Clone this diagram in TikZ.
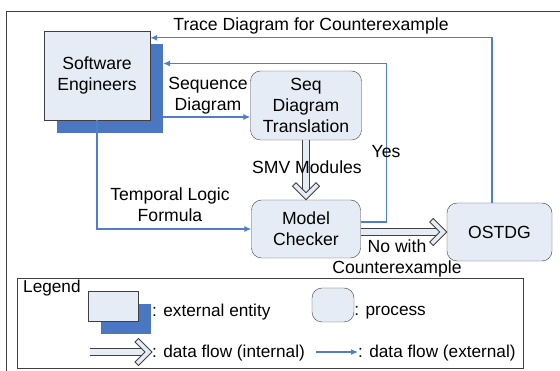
\documentclass[tikz,border=0pt]{standalone}
\usepackage{fontspec}
\setmainfont{Liberation Sans}
\usetikzlibrary{positioning,arrows.meta,shadows}
\definecolor{boxfill}{HTML}{E6ECF6}
\definecolor{shadowblue}{HTML}{4A76C2}
\definecolor{flowblue}{HTML}{4F7FC6}
\definecolor{edgegray}{HTML}{404040}

\begin{document}
\begin{tikzpicture}[x=1pt,y=-1pt,
  font=\fontsize{17.6}{21}\selectfont,
  entity/.style={draw=edgegray,fill=boxfill,align=center,inner sep=0pt,
    drop shadow={shadow xshift=13pt,shadow yshift=-13pt,fill=shadowblue,opacity=1}},
  process/.style={draw=edgegray,fill=boxfill,rounded corners=10pt,align=center,inner sep=0pt},
  flow/.style={draw=flowblue,line width=1.1pt,-{Latex[length=7pt,width=6pt]}},
  hollow/.style={draw=edgegray,double=boxfill,double distance=6pt,line width=0.8pt},
  chev/.pic={\draw[edgegray,fill=boxfill,line width=0.8pt,line join=miter]
    (0,0) -- (-13.5,-13.5) -- (-17,-10) -- (-7,0) -- (-17,10) -- (-13.5,13.5) -- cycle;},
  lbl/.style={align=center,inner sep=1pt},
  legtxt/.style={anchor=base west,inner sep=0pt,font=\fontsize{17.2}{20}\selectfont}]
\useasboundingbox (0,0) rectangle (560,371);
\draw[edgegray] (6,371) -- (6,11) -- (560,11);

% processes and entity
\node[entity,minimum width=106pt,minimum height=89pt] (se) at (97,75.5) {Software\\Engineers};
\node[process,minimum width=111pt,minimum height=69pt] (seq) at (306,105.5) {Seq\\Diagram\\Translation};
\node[process,minimum width=109pt,minimum height=58pt] (mc) at (306,229) {Model\\Checker};
\node[process,minimum width=105pt,minimum height=58pt] (ostdg) at (499.5,232) {OSTDG};

% external data flows
\draw[flow] ([xshift=-7.5pt]ostdg.north) |- ([yshift=-7pt]se.north east);
\draw[flow] ([yshift=7pt]mc.east) -- ++(26,0) |- ([xshift=13pt,yshift=12pt]se.east);
\draw[flow] ([xshift=13pt,yshift=-41.5pt]se.east) coordinate (sqs) -- (sqs -| seq.west);
\draw[flow] (se.south) |- (mc.west);

% internal data flows
\draw[hollow] (seq.south) -- ([yshift=7pt]mc.north);
\pic[rotate=-90] at (mc.north) {chev};
\draw[hollow] ([yshift=-3pt]mc.east) coordinate (nos) -- ([xshift=-7pt]nos -| ostdg.west);
\pic at (nos -| ostdg.west) {chev};

% labels
\node[lbl] (tracelbl) at (311,26) {Trace Diagram for Counterexample};
\node[lbl] (seqlbl) at (208,96) {Sequence\\Diagram};
\node[lbl] (tllbl) at (170,205) {Temporal Logic\\Formula};
\node[lbl] (smvlbl) at (307,167) {SMV Modules};
\node[lbl] (yeslbl) at (386,152) {Yes};
\node[lbl] (nolbl) at (397,258) {No with\\Counterexample};

% legend
\draw[edgegray] (17,278) rectangle (523,368);
\node[legtxt] (leg) at (23,293) {Legend};
\node[entity,minimum width=50pt,minimum height=30pt] (legent) at (113,306) {};
\node[legtxt] (legentlbl) at (152,317) {: external entity};
\node[process,minimum width=42pt,minimum height=34pt] (legproc) at (333,305) {};
\node[legtxt] (legproclbl) at (legproc.east |- 0,316) {: process};
\coordinate (hin1) at (90,352);
\coordinate (hin2) at (152,352);
\draw[hollow] (hin1) -- ([xshift=-7pt]hin2);
\pic at (hin2) {chev};
\node[legtxt] (hinlbl) at (152,358) {: data flow (internal)};
\coordinate (hex1) at (316,352);
\coordinate (hex2) at (358,352);
\draw[flow] (hex1) -- (hex2);
\node[legtxt] (hexlbl) at (358,358) {: data flow (external)};
\end{tikzpicture}
\end{document}
